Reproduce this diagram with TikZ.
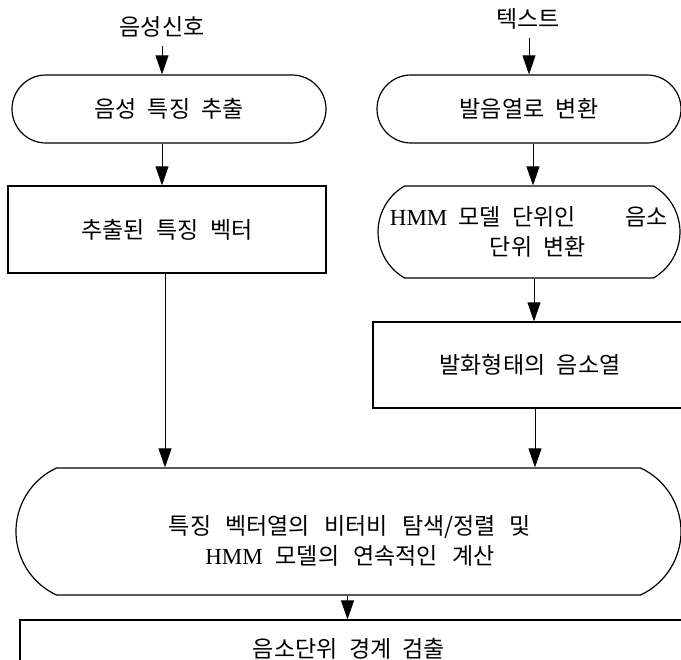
\documentclass[tikz,border=0pt]{standalone}
\usepackage{fontspec}
\setmainfont{Liberation Serif}
\newfontfamily\kr{Noto Sans CJK KR}
\newcommand\kofont{\kr\fontsize{23}{30}\selectfont\spaceskip=0.5em plus 0pt minus 0pt\relax}
\newcommand\kowide{\kr\fontsize{23}{30}\selectfont\spaceskip=0.62em plus 0pt minus 0pt\relax}
\newcommand\lat[1]{{\rmfamily\fontsize{23}{30}\selectfont #1}}
\usetikzlibrary{arrows.meta,shapes.misc}
\begin{document}
\begin{tikzpicture}[x=1pt,y=-1pt,
  kor/.style={font=\kofont, align=center},
  korw/.style={font=\kowide, align=center},
  stad/.style={draw, line width=1.2pt, rounded rectangle, inner sep=0pt},
  boxn/.style={draw, line width=1.2pt, rectangle, inner sep=0pt},
  conn/.style={line width=0.8pt, -{Triangle[width=13pt,length=19pt]}}]
\useasboundingbox (0,0) rectangle (681,660);
\clip (0,0) rectangle (681,660);

% inputs
\node[kor] (in1) at (162,27) {음성신호};
\node[kor] (in2) at (528,19) {텍스트};

% left column
\node[stad, kor, minimum width=314pt, minimum height=68pt] (s1) at (169,109) {음성 특징 추출};
\node[boxn, kor, minimum width=318pt, minimum height=87pt] (b1) at (167,229.5) {추출된 특징 벡터};

% right column
\node[stad, kor, minimum width=304pt, minimum height=68pt] (s2) at (529,109) {발음열로 변환};
\node[stad, kor, rounded rectangle arc length=120, minimum width=302pt, minimum height=92pt] (s3) at (529,232)
  {\lat{HMM}\hspace{11pt}모델 단위인\hspace{50pt}음소\\\hspace*{18pt}단위 변환};
\node[boxn, kor, minimum width=314pt, minimum height=86pt] (b2) at (530,365) {발화형태의 음소열};

% merge
\node[stad, rounded rectangle arc length=130, minimum width=665pt, minimum height=127pt] (s4) at (348.5,531.5) {};
\node[korw] (t4) at (350,541)
  {특징 벡터열의 비터비 탐색/정렬 및\\\lat{HMM}\hspace{13pt}모델의 연속적인 계산};
\node[boxn, minimum width=680pt, minimum height=80pt] (b3) at (360,660) {};
\node[kor] (t5) at (349,649) {음소단위 경계 검출};

% connectors
\draw[conn, shorten <=5pt] (in1.south) -- (in1.south |- s1.north);
\draw[conn, shorten <=5pt] ([xshift=1pt]in2.south) -- ([xshift=1pt]in2.south |- s2.north);
\draw[conn] ([xshift=-7pt]s1.south) -- ([xshift=-7pt]s1.south |- b1.north);
\draw[conn] ([xshift=4pt]s2.south) -- ([xshift=4pt]s2.south |- s3.north);
\draw[conn] ([xshift=5pt]s3.south) -- ([xshift=5pt]s3.south |- b2.north);
\draw[conn] ([xshift=-2pt]b1.south) -- ([xshift=-2pt]b1.south |- s4.north);
\draw[conn] ([xshift=5pt]b2.south) -- ([xshift=5pt]b2.south |- s4.north);
\draw[conn] ([xshift=-1pt]s4.south) -- ([xshift=-1pt]s4.south |- b3.north);
\end{tikzpicture}
\end{document}
